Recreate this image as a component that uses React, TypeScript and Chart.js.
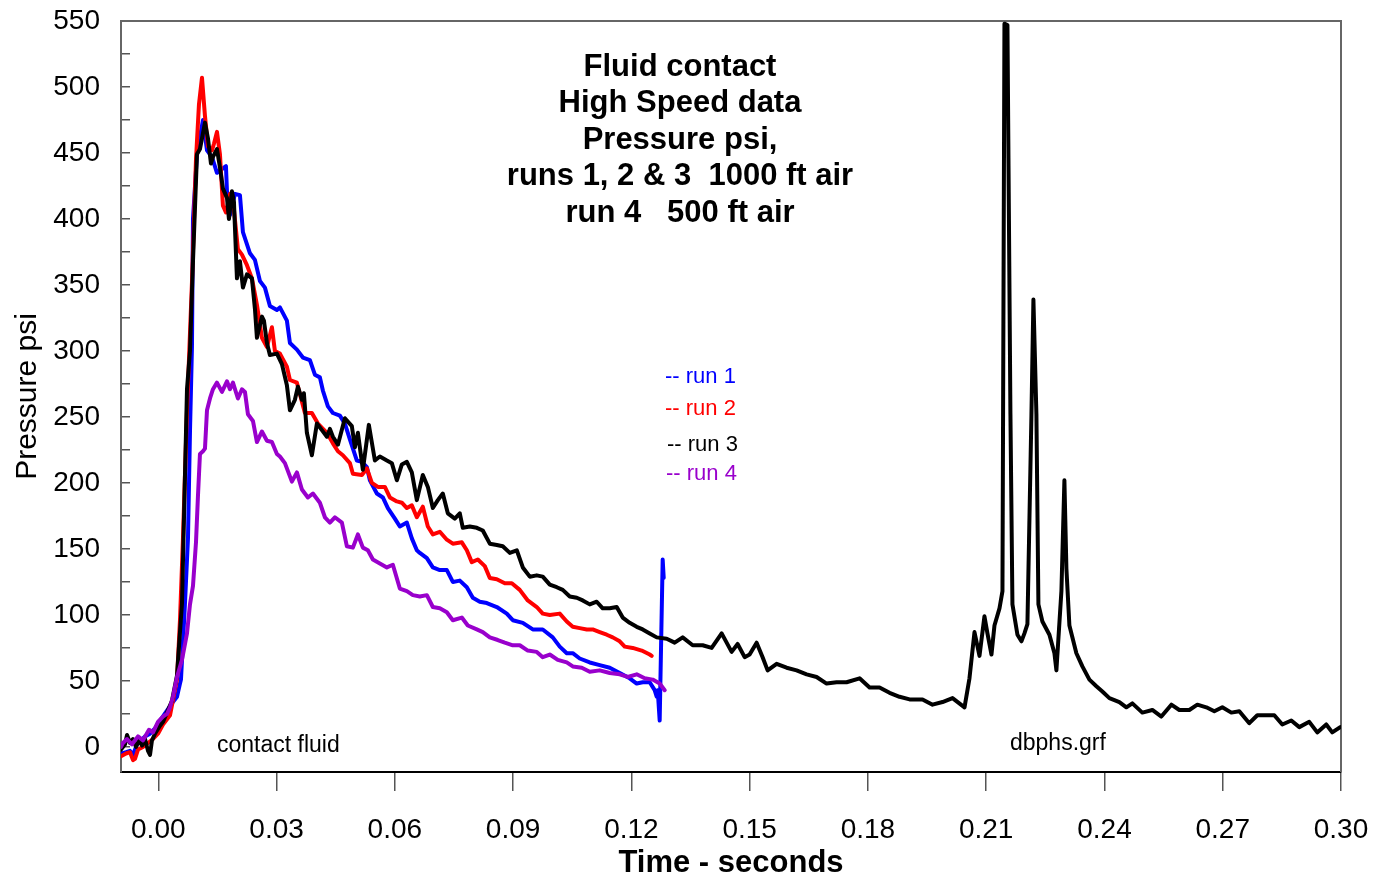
import React, { useEffect, useRef } from 'react';
import { Chart, registerables } from 'chart.js';

Chart.register(...registerables);

const FONT = '"Liberation Sans", Arial, Helvetica, sans-serif';

// [time in milliseconds, pressure in psi]
const run1: [number, number][] = [
  [-9.46, -5], [-8.19, -4], [-7.17, -3], [-6.41, -6], [-5.4, 2], [-4.39, 5], [-3.37, 8], [-2.1, 10],
  [-0.84, 14], [0.43, 20], [3.47, 33], [4.74, 38], [5.5, 48], [5.75, 51], [6.26, 80], [6.77, 109],
  [7.53, 158], [8.04, 239], [8.54, 303], [8.8, 400], [9.81, 449], [11.33, 475], [12.35, 452], [13.61, 447],
  [14.88, 435], [17.16, 440], [17.42, 421], [18.18, 403], [19.44, 419], [20.71, 418], [21.47, 390], [23.25, 374],
  [24.51, 369], [25.78, 353], [27.05, 348], [28.31, 334], [30.09, 331], [30.85, 333], [32.62, 323], [33.39, 306],
  [35.16, 301], [36.68, 295], [38.46, 293], [39.72, 282], [40.99, 280], [41.75, 270], [43.02, 258], [44.29, 253],
  [46.06, 251], [47.33, 245], [48.6, 233], [50.37, 217], [51.64, 216], [52.91, 212], [53.67, 202], [55.44, 192],
  [56.96, 189], [58.23, 181], [60.01, 173], [61.27, 167], [63.05, 170], [64.31, 158], [65.58, 149], [66.34, 147],
  [68.12, 143], [69.64, 136], [71.41, 134], [73.19, 134], [74.71, 125], [76.48, 126], [78.26, 121], [79.78, 113],
  [81.55, 110], [83.33, 109], [85.86, 106], [88.4, 101], [89.92, 96], [92.46, 94], [94.99, 89], [97.52, 89],
  [100.06, 83], [101.83, 76], [103.61, 71], [105.13, 71], [106.9, 67], [109.44, 64], [111.97, 62], [114.51, 60],
  [117.04, 56], [119.57, 52], [121.35, 48], [122.87, 49], [124.65, 49], [125.91, 43], [126.42, 38], [126.68, 43],
  [127.18, 20], [127.94, 142], [128.2, 128],
];

const run2: [number, number][] = [
  [-9.46, -7], [-8.19, -5], [-7.17, -4], [-6.41, -10], [-5.91, -9], [-5.15, -2], [-3.88, 0], [-2.61, 3],
  [-1.34, 6], [-0.08, 10], [1.19, 17], [2.97, 24], [4.74, 51], [5.5, 96], [6.26, 158], [7.28, 255],
  [8.54, 352], [9.56, 445], [10.32, 487], [11.08, 507], [11.84, 478], [12.6, 455], [13.61, 452], [14.12, 457],
  [14.88, 466], [15.64, 449], [16.4, 410], [17.16, 405], [18.18, 419], [19.19, 407], [20.2, 377], [21.22, 373],
  [22.49, 365], [23.75, 355], [25.02, 335], [26.29, 310], [27.56, 303], [28.82, 318], [29.58, 300], [30.85, 298],
  [32.62, 288], [33.39, 278], [35.16, 276], [37.19, 253], [38.96, 253], [40.49, 245], [42.77, 238], [44.29, 230],
  [45.56, 224], [46.82, 221], [48.6, 215], [49.36, 207], [51.64, 206], [52.91, 211], [54.17, 200], [55.7, 197],
  [57.47, 197], [58.74, 189], [60.51, 186], [61.78, 185], [63.05, 181], [64.31, 183], [65.58, 174], [67.1, 182],
  [68.37, 167], [69.64, 161], [71.41, 163], [73.19, 157], [74.71, 154], [76.99, 155], [78.26, 149], [79.52, 140],
  [81.05, 142], [82.82, 137], [84.09, 128], [85.86, 127], [87.89, 124], [89.67, 124], [91.69, 119], [93.72, 111],
  [96.0, 106], [97.52, 101], [99.3, 100], [101.83, 101], [103.61, 95], [105.13, 91], [106.9, 90], [108.68, 89],
  [110.2, 89], [111.97, 87], [113.75, 85], [115.27, 83], [117.04, 80], [118.31, 76], [120.33, 75], [122.62, 73],
  [124.65, 70], [125.15, 69],
];

const run3: [number, number][] = [
  [-9.46, -2], [-8.44, 2], [-7.93, 9], [-7.17, 3], [-6.41, 6], [-5.66, 0], [-4.89, 5], [-4.13, 1],
  [-3.37, 6], [-2.61, -3], [-2.1, -6], [-1.6, 5], [-0.84, 10], [0.43, 16], [1.19, 19], [3.47, 35],
  [4.74, 54], [6.01, 109], [6.77, 206], [7.28, 271], [8.04, 300], [8.8, 368], [9.81, 449], [10.57, 453],
  [11.84, 473], [12.6, 461], [13.36, 442], [13.87, 447], [14.88, 453], [15.64, 439], [16.4, 423], [17.42, 416],
  [17.92, 400], [18.68, 421], [19.19, 413], [19.95, 355], [20.71, 368], [21.47, 348], [22.49, 358], [23.75, 355],
  [24.51, 332], [25.02, 310], [26.29, 326], [26.79, 323], [27.56, 306], [28.31, 297], [30.09, 298], [31.36, 290],
  [32.62, 274], [33.39, 255], [34.65, 263], [35.41, 273], [36.43, 263], [36.93, 268], [37.69, 238], [38.96, 221],
  [40.23, 245], [41.5, 240], [42.77, 235], [43.53, 241], [44.29, 235], [45.56, 229], [47.33, 249], [49.1, 243],
  [49.87, 227], [50.63, 238], [51.89, 210], [53.41, 244], [54.94, 217], [56.2, 220], [57.98, 217], [59.24, 215],
  [60.51, 202], [61.78, 214], [63.05, 216], [64.31, 208], [65.58, 187], [67.1, 206], [68.37, 197], [69.64, 181],
  [70.91, 187], [72.17, 192], [73.44, 177], [75.21, 173], [76.48, 177], [77.24, 166], [79.02, 167], [80.79, 166],
  [82.31, 164], [84.09, 154], [85.86, 153], [87.38, 152], [89.16, 147], [90.93, 149], [92.46, 136], [94.23, 129],
  [96.0, 130], [97.52, 129], [99.3, 123], [101.07, 121], [102.59, 119], [104.37, 114], [106.14, 113], [107.66, 111],
  [109.44, 108], [111.21, 110], [112.73, 105], [114.51, 105], [116.28, 106], [117.8, 98], [119.57, 94], [121.35, 91],
  [122.87, 89], [124.65, 86], [126.42, 83], [128.96, 82], [130.98, 79], [133.01, 83], [135.55, 77], [138.08, 77],
  [140.36, 75], [142.9, 86], [145.43, 72], [146.95, 78], [148.73, 68], [149.99, 70], [151.77, 79], [153.29, 68],
  [154.56, 58], [156.84, 63], [159.38, 60], [161.91, 58], [164.45, 55], [166.98, 53], [169.52, 48], [172.05, 49],
  [174.59, 49], [177.88, 52], [180.42, 45], [182.95, 45], [185.49, 41], [188.02, 38], [190.56, 36], [193.85, 36],
  [196.39, 32], [198.92, 34], [201.46, 37], [204.5, 30], [205.76, 52], [207.03, 87], [208.3, 69], [209.56, 99],
  [210.32, 86], [211.34, 70], [212.1, 92], [213.37, 105], [214.13, 118], [214.63, 548], [215.39, 547], [216.15, 252],
  [216.66, 108], [217.93, 85], [218.94, 80], [219.7, 86], [220.46, 93], [221.48, 252], [221.98, 339], [222.74, 252],
  [223.25, 108], [224.26, 95], [226.04, 85], [227.31, 71], [227.81, 58], [229.08, 118], [229.84, 202], [230.35, 135],
  [231.11, 92], [232.88, 71], [234.4, 61], [236.18, 51], [237.95, 46], [239.47, 42], [241.25, 37], [243.78, 34],
  [245.56, 30], [247.08, 33], [249.61, 26], [252.15, 28], [254.43, 23], [256.97, 32], [258.99, 28], [261.53, 28],
  [263.56, 32], [265.84, 30], [267.87, 27], [269.9, 30], [272.18, 26], [274.21, 27], [276.74, 18], [278.77, 24],
  [281.05, 24], [283.08, 24], [285.11, 17], [287.39, 20], [289.42, 15], [291.95, 19], [293.98, 11], [296.26, 17],
  [297.78, 11], [299.81, 15],
];

const run4: [number, number][] = [
  [-9.46, 0], [-8.95, 3], [-7.93, 6], [-6.67, 2], [-5.15, 8], [-3.88, 5], [-2.36, 13], [-1.34, 11],
  [-0.08, 19], [1.19, 23], [2.21, 25], [2.97, 30], [3.73, 38], [4.74, 53], [6.01, 66], [7.28, 86],
  [8.04, 108], [8.8, 122], [9.56, 155], [10.06, 190], [10.57, 222], [11.33, 224], [11.84, 226], [12.35, 255],
  [13.11, 264], [13.87, 271], [14.88, 276], [16.15, 269], [17.42, 277], [18.18, 271], [18.94, 276], [20.2, 264],
  [21.22, 271], [21.98, 269], [22.74, 252], [24.01, 247], [25.02, 231], [26.29, 239], [27.56, 232], [28.82, 231],
  [30.09, 222], [30.85, 220], [32.12, 215], [33.89, 201], [35.16, 208], [36.43, 195], [37.95, 189], [39.22, 192],
  [40.99, 185], [42.26, 174], [43.53, 170], [44.79, 174], [46.57, 170], [47.84, 152], [49.36, 151], [50.63, 161],
  [51.89, 151], [53.16, 149], [54.43, 142], [56.2, 139], [57.98, 136], [59.5, 138], [61.27, 120], [63.05, 118],
  [64.57, 115], [66.34, 114], [68.12, 115], [69.64, 106], [71.41, 105], [73.19, 102], [74.71, 96], [76.99, 98],
  [78.51, 92], [80.79, 89], [82.31, 87], [84.09, 83], [86.12, 81], [87.89, 79], [89.92, 77], [91.69, 77],
  [93.72, 73], [96.0, 72], [97.52, 68], [99.3, 70], [101.33, 66], [103.61, 64], [105.13, 61], [107.41, 60],
  [109.44, 57], [111.97, 58], [114.51, 56], [117.04, 55], [119.07, 53], [121.35, 55], [123.38, 52], [125.41, 51],
  [127.18, 48], [128.45, 43],
];

const runNames = ['run 1', 'run 2', 'run 3', 'run 4'];
const runColors = ['#0000ff', '#ff0000', '#000000', '#9900cc'];
const runOrder = [4, 3, 2, 1];

const xTickValues = [0, 0.03, 0.06, 0.09, 0.12, 0.15, 0.18, 0.21, 0.24, 0.27, 0.3];
const yTickValues = Array.from({ length: 23 }, (_, i) => i * 25);

const titleLines = [
  'Fluid contact',
  'High Speed data',
  'Pressure psi,',
  'runs 1, 2 & 3  1000 ft air',
  'run 4   500 ft air',
];
const legendLabels = ['-- run 1', '-- run 2', '-- run 3', '-- run 4'];
const legendX = [665, 665, 667, 666];
const legendBaseline = [383, 415, 451, 480];

const overlay = {
  id: 'overlay',
  beforeDatasetsDraw(chart: any) {
    const { ctx, chartArea: a } = chart;
    ctx.save();
    ctx.strokeStyle = '#666';
    ctx.lineWidth = 2;
    ctx.beginPath();
    ctx.moveTo(a.left, a.top);
    ctx.lineTo(a.right, a.top);
    ctx.lineTo(a.right, a.bottom);
    ctx.stroke();
    ctx.restore();
  },
  afterDraw(chart: any) {
    const ctx = chart.ctx;
    ctx.save();
    ctx.fillStyle = '#000';
    ctx.textAlign = 'center';
    ctx.textBaseline = 'middle';
    ctx.font = `bold 31px ${FONT}`;
    titleLines.forEach((s, i) => ctx.fillText(s, 680, 67 + i * 36.5));
    ctx.textAlign = 'left';
    ctx.textBaseline = 'alphabetic';
    ctx.font = `22px ${FONT}`;
    legendLabels.forEach((s, i) => {
      ctx.fillStyle = runColors[i];
      ctx.fillText(s, legendX[i], legendBaseline[i]);
    });
    ctx.fillStyle = '#000';
    ctx.font = `23px ${FONT}`;
    ctx.fillText('contact fluid', 217, 752);
    ctx.fillText('dbphs.grf', 1010, 750);
    ctx.restore();
  },
};

export default function App() {
  const ref = useRef<HTMLCanvasElement>(null);
  useEffect(() => {
    if (!ref.current) return;
    const runs = [run1, run2, run3, run4];
    const chart = new Chart(ref.current, {
      type: 'line',
      data: {
        datasets: runs.map((pts, i) => ({
          label: runNames[i],
          data: pts.map(([ms, psi]) => ({ x: ms / 1000, y: psi })),
          borderColor: runColors[i],
          backgroundColor: runColors[i],
          borderWidth: 4,
          borderJoinStyle: 'round',
          borderCapStyle: 'round',
          pointRadius: 0,
          tension: 0,
          fill: false,
          order: runOrder[i],
        })),
      },
      options: {
        animation: false,
        responsive: false,
        devicePixelRatio: 1,
        layout: { padding: { left: 0, top: 21, right: 35, bottom: 0 } },
        plugins: {
          legend: { display: false },
          title: { display: false },
          tooltip: { enabled: false },
        },
        scales: {
          x: {
            type: 'linear',
            min: -0.00946,
            max: 0.3,
            afterFit: (s: any) => {
              s.height = 108;
              s.paddingLeft = 0;
              s.paddingRight = 0;
              s.paddingTop = 0;
              s.paddingBottom = 0;
            },
            afterBuildTicks: (s: any) => { s.ticks = xTickValues.map((v) => ({ value: v })); },
            ticks: {
              autoSkip: false,
              maxRotation: 0,
              padding: 22,
              color: '#000',
              font: { family: FONT, size: 28 },
              callback: (v: any) => Number(v).toFixed(2),
            },
            grid: { drawOnChartArea: false, drawTicks: true, tickLength: 19, color: '#555', lineWidth: 1.5 },
            border: { display: true, color: '#000', width: 2 },
            title: {
              display: true,
              text: 'Time - seconds',
              color: '#000',
              font: { family: FONT, size: 31, weight: 'bold', lineHeight: 1.05 },
              padding: 0,
            },
          },
          y: {
            type: 'linear',
            min: -19,
            max: 550,
            afterFit: (s: any) => {
              s.width = 121;
              s.paddingLeft = 0;
              s.paddingRight = 0;
              s.paddingTop = 0;
              s.paddingBottom = 0;
            },
            afterBuildTicks: (s: any) => { s.ticks = yTickValues.map((v) => ({ value: v })); },
            ticks: {
              autoSkip: false,
              padding: 30,
              color: '#000',
              font: { family: FONT, size: 28 },
              callback: (v: any) => (Number(v) % 50 === 0 ? String(v) : ''),
            },
            grid: { drawOnChartArea: false, drawTicks: true, tickLength: -9, color: '#555', lineWidth: 1.5 },
            border: { display: true, color: '#666', width: 2 },
            title: {
              display: true,
              text: 'Pressure psi',
              color: '#000',
              font: { family: FONT, size: 30 },
              padding: { top: 10, bottom: 0 },
            },
          },
        },
      } as any,
      plugins: [overlay],
    });
    return () => chart.destroy();
  }, []);
  return (
    <div style={{ position: 'absolute', left: 0, top: 0, width: 1376, height: 880, background: '#fff' }}>
      <canvas ref={ref} width={1376} height={880} style={{ display: 'block', width: 1376, height: 880 }} />
    </div>
  );
}
